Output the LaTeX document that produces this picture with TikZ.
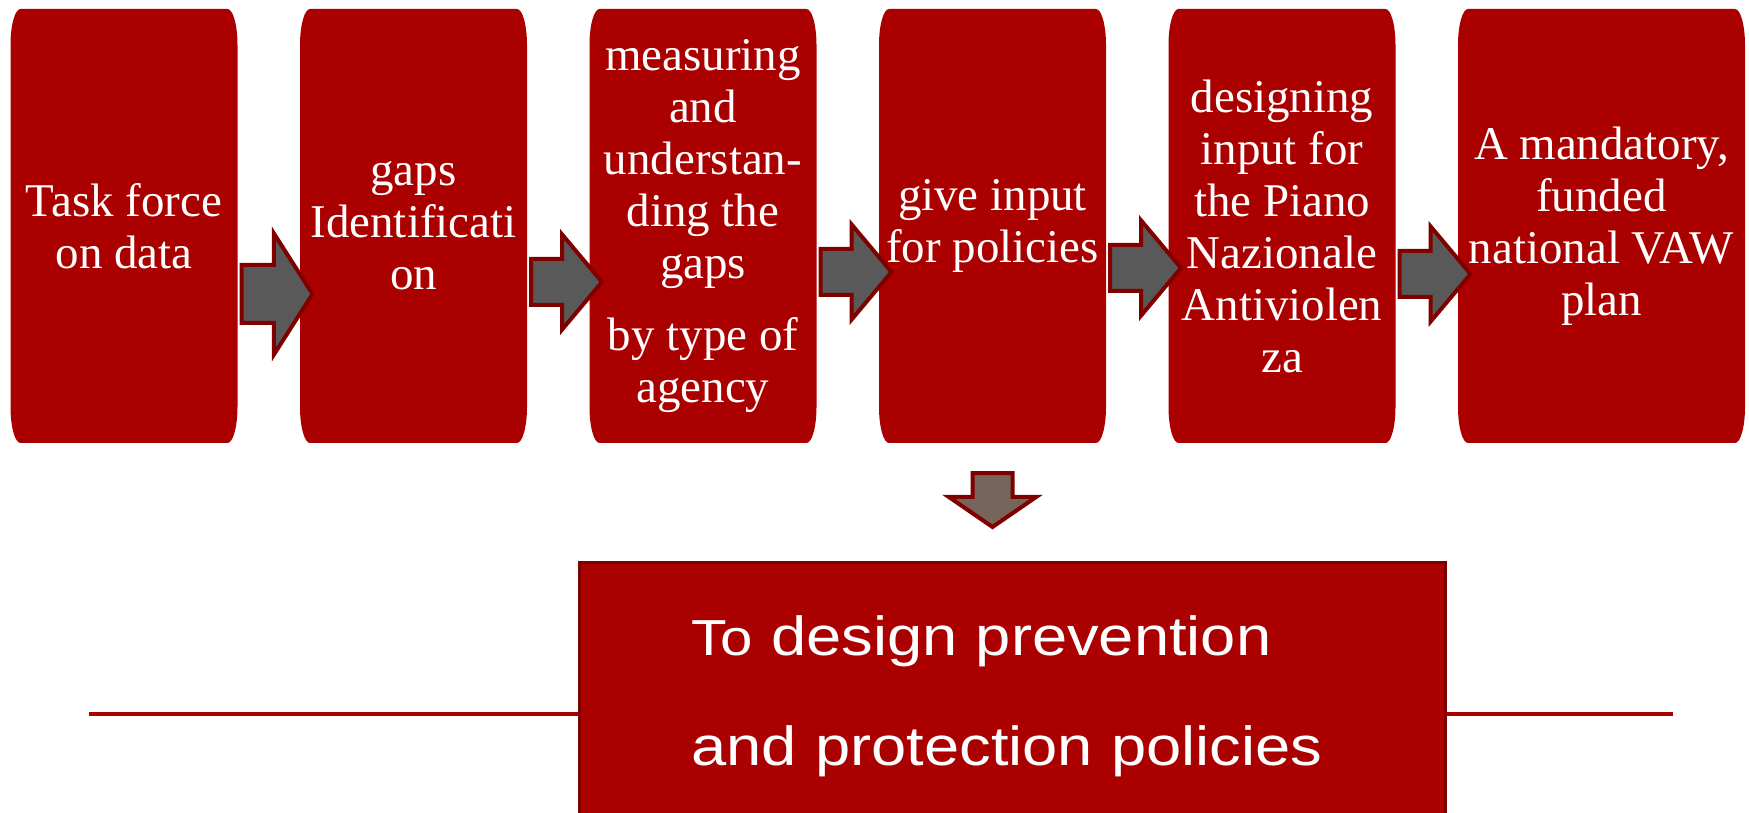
\documentclass[tikz,border=0pt]{standalone}
\usepackage{fontspec}
\setmainfont{Liberation Serif}
\setsansfont{Liberation Sans}
\newfontfamily\goalfont[FakeStretch=1.15]{Liberation Sans}
\usetikzlibrary{positioning,shapes.arrows,backgrounds}
\definecolor{boxred}{RGB}{170,0,0}
\definecolor{edgered}{RGB}{128,0,0}
\definecolor{arrowgray}{RGB}{89,89,89}
\definecolor{downgray}{RGB}{117,101,90}

\begin{document}
\begin{tikzpicture}
\tikzset{stage/.style={minimum width=4.54cm, minimum height=8.68cm, inner sep=0, outer sep=0, align=center, text=white, font=\fontsize{26.7}{29.6}\selectfont},
  flow/.style={single arrow, draw=edgered, fill=arrowgray, line width=0.08cm, inner xsep=0, inner ysep=0.42cm, single arrow head extend=0.49cm, single arrow tip angle=100, single arrow head indent=0, minimum height=1.42cm, anchor=tail},
  bigflow/.style={flow, inner ysep=0.54cm, single arrow head extend=0.63cm, single arrow tip angle=115},
  downflow/.style={flow, fill=downgray, rotate=-90, inner ysep=0.36cm, single arrow head extend=0.48cm, single arrow tip angle=111, minimum height=1.08cm},
  goalbox/.style={fill=boxred, draw=edgered, line width=0.06cm, text width=12.84cm, inner xsep=2.24cm, inner ysep=1.06cm, align=left, text=white, anchor=north west, font=\goalfont\fontsize{31.3}{62.6}\selectfont},
  rule/.style={draw=boxred, line width=0.09cm}}
\useasboundingbox (0,0) rectangle (34.98,-16.26);
\clip (0,0) rectangle (34.98,-16.26);
\node[stage] (b1) at (2.48,-4.52) {Task force\\on data};
\node[stage, right=1.25cm of b1] (b2) {gaps\\Identificati\\on};
\node[stage, right=1.25cm of b2] (b3) {measuring\\and\\understan-\\ding the\\gaps\\[0.38cm]by type of\\agency};
\node[stage, right=1.25cm of b3] (b4) {give input\\for policies};
\node[stage, right=1.25cm of b4] (b5) {designing\\input for\\the Piano\\Nazionale\\Antiviolen\\za};
\node[stage, minimum width=5.74cm, right=1.25cm of b5] (b6) {A mandatory,\\funded\\national VAW\\plan};
% box fills with tall corners
\begin{scope}[on background layer]
\foreach \n in {b1,b2,b3,b4,b5,b6}
  \fill[boxred] ([yshift=-0.72cm]\n.north west) arc[start angle=180, end angle=90, x radius=0.2cm, y radius=0.72cm]
    -- ([xshift=-0.2cm]\n.north east) arc[start angle=90, end angle=0, x radius=0.2cm, y radius=0.72cm]
    -- ([yshift=0.72cm]\n.south east) arc[start angle=0, end angle=-90, x radius=0.2cm, y radius=0.72cm]
    -- ([xshift=0.2cm]\n.south west) arc[start angle=270, end angle=180, x radius=0.2cm, y radius=0.72cm]
    -- cycle;
\end{scope}
\node[bigflow] (a1) at ([xshift=0.04cm, yshift=-1.36cm]b1.east) {};
\node[flow] (a2) at ([xshift=0.04cm, yshift=-1.12cm]b2.east) {};
\node[flow] (a3) at ([xshift=0.04cm, yshift=-0.92cm]b3.east) {};
\node[flow] (a4) at ([xshift=0.04cm, yshift=-0.84cm]b4.east) {};
\node[flow] (a5) at ([xshift=0.04cm, yshift=-0.96cm]b5.east) {};
\node[downflow] (a6) at ([yshift=-0.56cm]b4.south) {};
\coordinate (ruleL) at (1.78,-14.28);
\coordinate (ruleR) at (33.46,-14.28);
\draw[rule] (ruleL) -- (ruleR);
\node[goalbox] (goal) at (11.56,-11.22) {{\fontsize{28.8}{62.6}\selectfont To} design prevention\\and protection policies};
\end{tikzpicture}
\end{document}
